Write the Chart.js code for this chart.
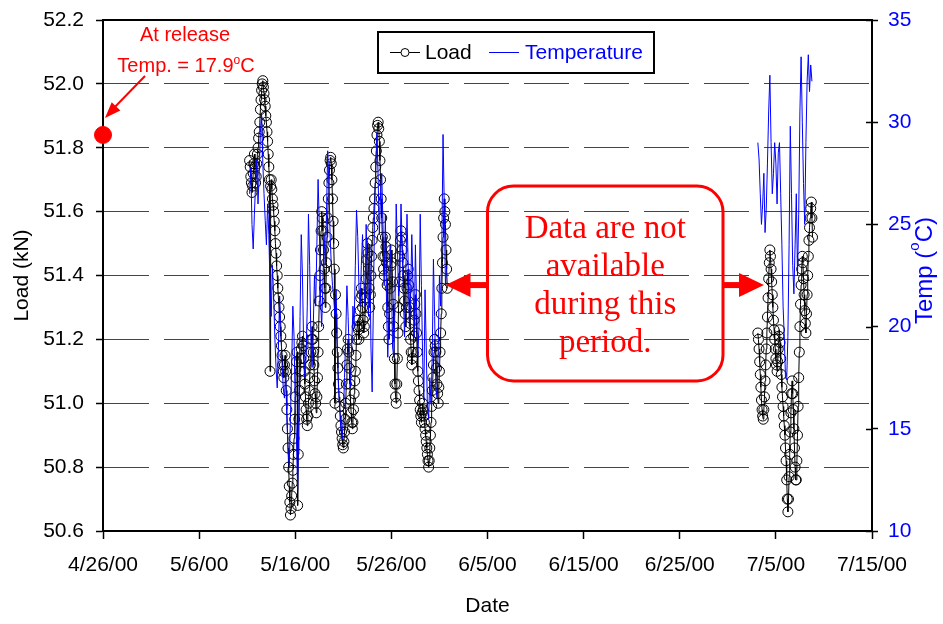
<!DOCTYPE html>
<html>
<head>
<meta charset="utf-8">
<title>Load and temperature</title>
<script src="https://cdn.jsdelivr.net/npm/chart.js@4.4.1/dist/chart.umd.min.js"></script>
<style>
  html, body { margin: 0; padding: 0; background: #fff; }
  #wrap { width: 943px; height: 624px; }
</style>
</head>
<body>
<div id="wrap"><canvas id="chart"></canvas></div>
<script>
// x values are days after 4/26/00 (release date)
const xTickLabels = ['4/26/00', '5/6/00', '5/16/00', '5/26/00', '6/5/00', '6/15/00', '6/25/00', '7/5/00', '7/15/00'];

// load gauge read every 1.5 hours, thermocouple every 3 hours
const loadStepDays = 0.0625;
const tempStepDays = 0.125;
const run1Start = 15.25;   // 5/11/00 06:00
const run2Start = 68.125;  // 7/3/00 03:00

// Load (kN), first run
const load1 = [
  51.76, 51.74, 51.71, 51.69, 51.66, 51.68, 51.72, 51.75, 51.78, 51.74, 51.69, 51.71, 51.75, 51.78, 51.80, 51.83,
  51.85, 51.88, 51.92, 51.95, 51.98, 52.00, 52.01, 51.99, 51.97, 51.95, 51.93, 51.90, 51.88, 51.85, 51.82, 51.78,
  51.74, 51.70, 51.10, 51.68, 51.70, 51.67, 51.64, 51.62, 51.60, 51.57, 51.54, 51.50, 51.47, 51.43, 51.40, 51.36,
  51.33, 51.30, 51.27, 51.24, 51.21, 51.18, 51.15, 51.12, 51.10, 51.08, 51.12, 51.15, 51.10, 51.04, 50.98, 50.92,
  50.86, 50.80, 50.74, 50.69, 50.65, 50.67, 50.71, 50.75, 50.79, 50.84, 50.89, 50.95, 51.02, 51.08, 51.13, 51.16,
  50.68, 50.84, 50.95, 51.04, 51.10, 51.14, 51.17, 51.19, 51.21, 51.18, 51.14, 51.10, 51.06, 51.02, 50.98, 50.95,
  50.93, 50.96, 51.00, 51.04, 51.08, 51.12, 51.16, 51.20, 51.24, 51.20, 51.16, 51.12, 51.07, 51.03, 51.00, 50.97,
  51.02, 51.08, 51.16, 51.24, 51.32, 51.40, 51.48, 51.54, 51.60, 51.58, 51.54, 51.48, 51.42, 51.36, 51.30, 51.36,
  51.44, 51.52, 51.58, 51.64, 51.69, 51.73, 51.76, 51.77, 51.75, 51.70, 51.64, 51.57, 51.50, 51.42, 51.00, 51.34,
  51.28, 51.22, 51.16, 51.11, 51.06, 51.02, 50.99, 50.96, 50.93, 50.91, 50.89, 50.87, 50.86, 50.88, 50.91, 50.95,
  51.00, 51.06, 51.12, 51.17, 51.20, 51.16, 51.11, 51.06, 51.01, 50.97, 50.94, 50.92, 50.94, 50.98, 51.03, 51.07,
  51.10, 51.15, 51.20, 51.24, 51.26, 51.23, 51.20, 51.24, 51.29, 51.33, 51.36, 51.34, 51.30, 51.26, 51.22, 51.24,
  51.27, 51.33, 51.39, 51.45, 51.50, 51.47, 51.42, 51.36, 51.30, 51.34, 51.40, 51.46, 51.51, 51.55, 51.58, 51.61,
  51.64, 51.69, 51.74, 51.79, 51.84, 51.87, 51.88, 51.86, 51.82, 51.76, 51.70, 51.64, 51.58, 51.52, 51.46, 51.42,
  51.40, 51.46, 51.52, 51.49, 51.44, 51.37, 51.30, 51.24, 51.20, 51.28, 51.36, 51.43, 51.48, 51.44, 51.38, 51.31,
  51.24, 51.14, 51.06, 51.02, 51.00, 51.06, 51.14, 51.22, 51.30, 51.38, 51.46, 51.51, 51.54, 51.52, 51.48, 51.44,
  51.40, 51.36, 51.32, 51.28, 51.24, 51.30, 51.36, 51.40, 51.42, 51.37, 51.30, 51.25, 51.20, 51.16, 51.12, 51.14,
  51.16, 51.21, 51.26, 51.31, 51.34, 51.28, 51.22, 51.16, 51.10, 51.07, 51.04, 51.01, 50.98, 50.96, 50.94, 50.97,
  51.00, 50.98, 50.96, 50.94, 50.92, 50.90, 50.88, 50.86, 50.84, 50.82, 50.80, 50.82, 50.86, 50.90, 50.94, 50.99,
  51.04, 51.08, 51.12, 51.16, 51.20, 51.18, 51.16, 51.11, 51.06, 51.03, 51.00, 51.05, 51.10, 51.16, 51.22, 51.28,
  51.36, 51.44, 51.52, 51.58, 51.64, 51.60, 51.56, 51.48, 51.42, 51.36
];

// Temperature (C), first run
const temp1 = [
  26.5, 27.8, 25.0, 23.8, 25.5, 27.0, 28.2, 26.0,
  27.5, 29.5, 30.4, 28.0, 26.5, 25.2, 24.0, 26.0,
  24.5, 22.0, 20.5, 23.0, 21.5, 19.5, 18.0, 17.0,
  19.0, 21.5, 20.0, 18.2, 17.0, 16.5, 17.8, 15.5,
  14.0, 13.2, 15.5, 18.0, 21.0, 19.5, 16.0, 14.5,
  12.0, 15.5, 20.5, 24.5, 22.5, 19.0, 17.5, 18.5,
  21.0, 25.5, 23.0, 19.5, 18.0, 20.0, 22.5, 21.0,
  24.0, 27.2, 25.0, 21.5, 20.0, 22.0, 24.5, 23.0,
  25.5, 28.6, 27.0, 24.5, 23.0, 22.0, 21.5, 20.5,
  21.8, 19.0, 17.0, 16.0, 15.0, 14.5, 15.5, 17.5,
  19.5, 22.0, 20.5, 18.5, 17.0, 19.0, 21.0, 20.0,
  23.0, 25.7, 24.4, 22.0, 21.0, 23.0, 24.5, 22.5,
  21.0, 25.0, 22.5, 20.5, 24.0, 19.0, 16.8, 21.0,
  25.5, 27.8, 29.5, 27.2, 24.5, 26.5, 27.5, 25.0,
  22.0, 25.5, 21.0, 18.5, 20.5, 24.0, 22.5, 19.0,
  18.5, 21.0, 26.0, 24.0, 21.5, 22.5, 26.0, 24.0,
  21.5, 19.5, 22.5, 25.5, 23.0, 20.0, 21.5, 24.5,
  22.0, 19.5, 24.0, 21.0, 18.5, 20.0, 25.5, 22.0,
  18.5, 16.4, 21.8, 19.0, 16.0, 15.5, 17.5, 16.2,
  18.5, 23.3, 20.5, 17.0, 16.5, 19.0, 22.5, 21.0,
  24.0, 29.4, 26.0, 22.0, 23.0
];

// second run, July
const load2 = [
  51.22, 51.20, 51.17, 51.13, 51.09, 51.05, 51.01, 50.98, 50.96, 50.95, 50.98, 51.02, 51.07, 51.12, 51.17, 51.22,
  51.27, 51.33, 51.39, 51.44, 51.48, 51.46, 51.42, 51.38, 51.34, 51.30, 51.26, 51.23, 51.20, 51.17, 51.14, 51.12,
  51.10, 51.13, 51.17, 51.21, 51.23, 51.19, 51.14, 51.09, 51.05, 51.02, 50.99, 50.96, 50.93, 50.90, 50.86, 50.82,
  50.76, 50.70, 50.66, 50.70, 50.77, 50.84, 50.91, 50.97, 51.03, 51.07, 51.03, 50.98, 50.92, 50.86, 50.80, 50.76,
  50.76, 50.82, 50.90, 50.99, 51.08, 51.16, 51.24, 51.31, 51.37, 51.42, 51.46, 51.44, 51.39, 51.34, 51.29, 51.25,
  51.22, 51.28, 51.34, 51.40, 51.46, 51.51, 51.55, 51.58, 51.61, 51.63, 51.58, 51.52
];
const temp2 = [
  29.0, 28.2, 26.5, 25.0, 26.0, 27.5, 24.6, 25.8,
  28.0, 30.5, 32.3, 29.0, 26.5, 27.5, 29.0, 28.0,
  26.0, 28.5, 29.0, 26.5, 24.0, 21.0, 19.5, 17.5,
  17.4, 19.5, 24.0, 29.8, 26.5, 23.0, 21.6, 24.0,
  26.5, 22.5, 25.5, 30.5, 33.2, 30.0, 27.0, 25.0,
  29.0, 32.0, 33.3, 31.5, 32.8, 32.0
];

// load at release
const releaseDay = 0;
const releaseLoad = 51.84;
const releaseTemp = 17.9;

const boxLines = ['Data are not', 'available', 'during this', 'period.'];

const SANS = '"Liberation Sans", Arial, sans-serif';
const SERIF = '"Liberation Serif", "Times New Roman", serif';
const RED = '#ff0000';
const BLUE = '#0000ff';

Chart.defaults.font.family = SANS;
Chart.defaults.font.size = 21;
Chart.defaults.color = '#000';

function toPoints(start, step, values) {
  return values.map((v, i) => ({ x: start + i * step, y: v }));
}

// text with a raised small "o" used as degree sign, drawn left to right from x
function drawDegreeText(ctx, before, after, x, y, size) {
  ctx.font = size + 'px ' + SANS;
  ctx.fillText(before, x, y);
  let w = ctx.measureText(before).width;
  ctx.font = Math.round(size * 0.62) + 'px ' + SANS;
  ctx.fillText('o', x + w, y - size * 0.42);
  w += ctx.measureText('o').width;
  ctx.font = size + 'px ' + SANS;
  ctx.fillText(after, x + w, y);
}

function degreeTextWidth(ctx, before, after, size) {
  ctx.font = size + 'px ' + SANS;
  let w = ctx.measureText(before).width + ctx.measureText(after).width;
  ctx.font = Math.round(size * 0.62) + 'px ' + SANS;
  return w + ctx.measureText('o').width;
}

function arrowHead(ctx, tipX, tipY, fromX, fromY, len, half) {
  const ang = Math.atan2(tipY - fromY, tipX - fromX);
  ctx.beginPath();
  ctx.moveTo(tipX, tipY);
  ctx.lineTo(tipX - len * Math.cos(ang) + half * Math.sin(ang), tipY - len * Math.sin(ang) - half * Math.cos(ang));
  ctx.lineTo(tipX - len * Math.cos(ang) - half * Math.sin(ang), tipY - len * Math.sin(ang) + half * Math.cos(ang));
  ctx.closePath();
  ctx.fill();
}

// keep the plot edges fixed: no extra room for half tick labels
function fixedWidth(w) {
  return s => {
    s.width = w;
    s.paddingTop = 0;
    s.paddingBottom = 0;
  };
}

// frame, legend, notes and the right axis title
const decorations = {
  id: 'decorations',
  afterDraw(chart) {
    const { ctx, chartArea: a, scales } = chart;
    const xs = scales.x, yl = scales.yLoad, yt = scales.yTemp;
    ctx.save();

    // frame
    ctx.strokeStyle = '#000';
    ctx.lineWidth = 2;
    ctx.beginPath();
    ctx.moveTo(a.left, a.top);
    ctx.lineTo(a.right, a.top);
    ctx.stroke();
    // right axis ticks also cross into the plot
    ctx.lineWidth = 1.5;
    yt.ticks.forEach(t => {
      const py = Math.round(yt.getPixelForValue(t.value)) + 0.5;
      ctx.beginPath();
      ctx.moveTo(a.right - 6, py);
      ctx.lineTo(a.right, py);
      ctx.stroke();
    });

    // legend
    const lx = a.left + 275, ly = a.top + 12, lw = 276, lh = 41;
    ctx.fillStyle = '#fff';
    ctx.fillRect(lx, ly, lw, lh);
    ctx.lineWidth = 2;
    ctx.strokeStyle = '#000';
    ctx.strokeRect(lx, ly, lw, lh);
    const my = ly + lh / 2;
    ctx.lineWidth = 1;
    ctx.beginPath();
    ctx.moveTo(lx + 12, my);
    ctx.lineTo(lx + 42, my);
    ctx.stroke();
    ctx.beginPath();
    ctx.arc(lx + 27, my, 4, 0, Math.PI * 2);
    ctx.fillStyle = '#fff';
    ctx.fill();
    ctx.stroke();
    ctx.font = '21px ' + SANS;
    ctx.textBaseline = 'middle';
    ctx.textAlign = 'left';
    ctx.fillStyle = '#000';
    ctx.fillText('Load', lx + 47, my + 1);
    ctx.strokeStyle = BLUE;
    ctx.beginPath();
    ctx.moveTo(lx + 111, my);
    ctx.lineTo(lx + 141, my);
    ctx.stroke();
    ctx.fillStyle = BLUE;
    ctx.fillText('Temperature', lx + 147, my + 1);

    // release note
    const dotX = xs.getPixelForValue(releaseDay);
    const dotY = yl.getPixelForValue(releaseLoad);
    ctx.fillStyle = RED;
    ctx.strokeStyle = RED;
    ctx.textBaseline = 'alphabetic';
    ctx.textAlign = 'center';
    ctx.font = '20px ' + SANS;
    ctx.fillText('At release', a.left + 82, a.top + 21);
    ctx.textAlign = 'left';
    const before = 'Temp. = ' + releaseTemp.toFixed(1), after = 'C';
    const tw = degreeTextWidth(ctx, before, after, 20);
    drawDegreeText(ctx, before, after, a.left + 83 - tw / 2, a.top + 52, 20);
    const fromX = a.left + 42, fromY = a.top + 56;
    const tipX = dotX + 2, tipY = dotY - 17;
    ctx.lineWidth = 2;
    ctx.beginPath();
    ctx.moveTo(fromX, fromY);
    ctx.lineTo(tipX + 6, tipY - 7);
    ctx.stroke();
    arrowHead(ctx, tipX, tipY, fromX, fromY, 16, 6);

    // missing data box
    const bl = xs.getPixelForValue(40), br = xs.getPixelForValue(64.5);
    const bt = yl.getPixelForValue(51.68), bb = yl.getPixelForValue(51.07);
    ctx.lineWidth = 3;
    ctx.beginPath();
    ctx.roundRect(bl, bt, br - bl, bb - bt, 26);
    ctx.stroke();
    ctx.font = '33px ' + SERIF;
    ctx.textAlign = 'center';
    const cx = (bl + br) / 2;
    boxLines.forEach((s, i) => ctx.fillText(s, cx, bt + 52 + i * 38));
    const ay = yl.getPixelForValue(51.37);
    ctx.fillRect(bl - 19, ay - 3, 19, 6);
    arrowHead(ctx, bl - 42, ay, bl, ay, 25, 12);
    ctx.fillRect(br, ay - 3, 18, 6);
    arrowHead(ctx, br + 41, ay, br, ay, 25, 12);

    // right axis title
    ctx.fillStyle = BLUE;
    ctx.textAlign = 'left';
    ctx.textBaseline = 'middle';
    const rt = degreeTextWidth(ctx, 'Temp (', 'C)', 24);
    ctx.translate(a.right + 53, (a.top + a.bottom) / 2 - 5);
    ctx.rotate(-Math.PI / 2);
    drawDegreeText(ctx, 'Temp (', 'C)', -rt / 2, 0, 24);

    ctx.restore();
  }
};

const loadStyle = {
  yAxisID: 'yLoad',
  borderColor: '#000',
  borderWidth: 1,
  pointRadius: 5,
  pointBorderWidth: 1,
  pointBorderColor: '#000',
  pointBackgroundColor: 'rgba(0,0,0,0)',
  order: 2
};
const tempStyle = {
  yAxisID: 'yTemp',
  borderColor: BLUE,
  borderWidth: 1,
  pointRadius: 0,
  order: 1
};

new Chart(document.getElementById('chart'), {
  type: 'line',
  data: {
    datasets: [
      { label: 'Load', data: toPoints(run1Start, loadStepDays, load1), ...loadStyle },
      { label: 'Load', data: toPoints(run2Start, loadStepDays, load2), ...loadStyle },
      { label: 'Temperature', data: toPoints(run1Start, tempStepDays, temp1), ...tempStyle },
      { label: 'Temperature', data: toPoints(run2Start, tempStepDays, temp2), ...tempStyle },
      {
        label: 'At release',
        data: [{ x: releaseDay, y: releaseLoad }],
        yAxisID: 'yLoad',
        showLine: false,
        pointRadius: 8.5,
        pointBackgroundColor: RED,
        pointBorderColor: RED,
        clip: false,
        order: 0
      }
    ]
  },
  options: {
    responsive: true,
    maintainAspectRatio: false,
    animation: false,
    devicePixelRatio: 1,
    layout: { padding: { top: 20, left: 0, right: 0, bottom: 0 } },
    plugins: { legend: { display: false }, tooltip: { enabled: false } },
    elements: { line: { tension: 0 } },
    scales: {
      x: {
        type: 'linear',
        min: 0,
        max: 80,
        afterFit: s => { s.height = 93; s.paddingLeft = 0; s.paddingRight = 0; },
        ticks: {
          stepSize: 10,
          autoSkip: false,
          maxRotation: 0,
          padding: 14,
          callback: v => xTickLabels[Math.round(v / 10)]
        },
        grid: { drawOnChartArea: false, tickLength: 8, tickColor: '#000', tickWidth: 1.5 },
        border: { color: '#000', width: 2 },
        title: { display: true, text: 'Date', font: { size: 21 }, padding: { top: 0, bottom: 5 } }
      },
      yLoad: {
        position: 'left',
        min: 50.6,
        max: 52.2,
        afterFit: fixedWidth(103),
        ticks: { stepSize: 0.2, padding: 12, callback: v => v.toFixed(1) },
        grid: { color: '#444', lineWidth: 1, tickLength: 7, tickColor: '#000', tickWidth: 1.5 },
        border: { color: '#000', width: 2, dash: [45, 15] },
        title: { display: true, text: 'Load (kN)', font: { size: 21 }, padding: { top: 10, bottom: 0 } }
      },
      yTemp: {
        position: 'right',
        min: 10,
        max: 35,
        afterFit: fixedWidth(71),
        ticks: { stepSize: 5, padding: 10, color: BLUE },
        grid: { drawOnChartArea: false, tickLength: 6, tickColor: '#000', tickWidth: 1.5 },
        border: { color: '#000', width: 2 }
      }
    }
  },
  plugins: [decorations]
});
</script>
</body>
</html>
